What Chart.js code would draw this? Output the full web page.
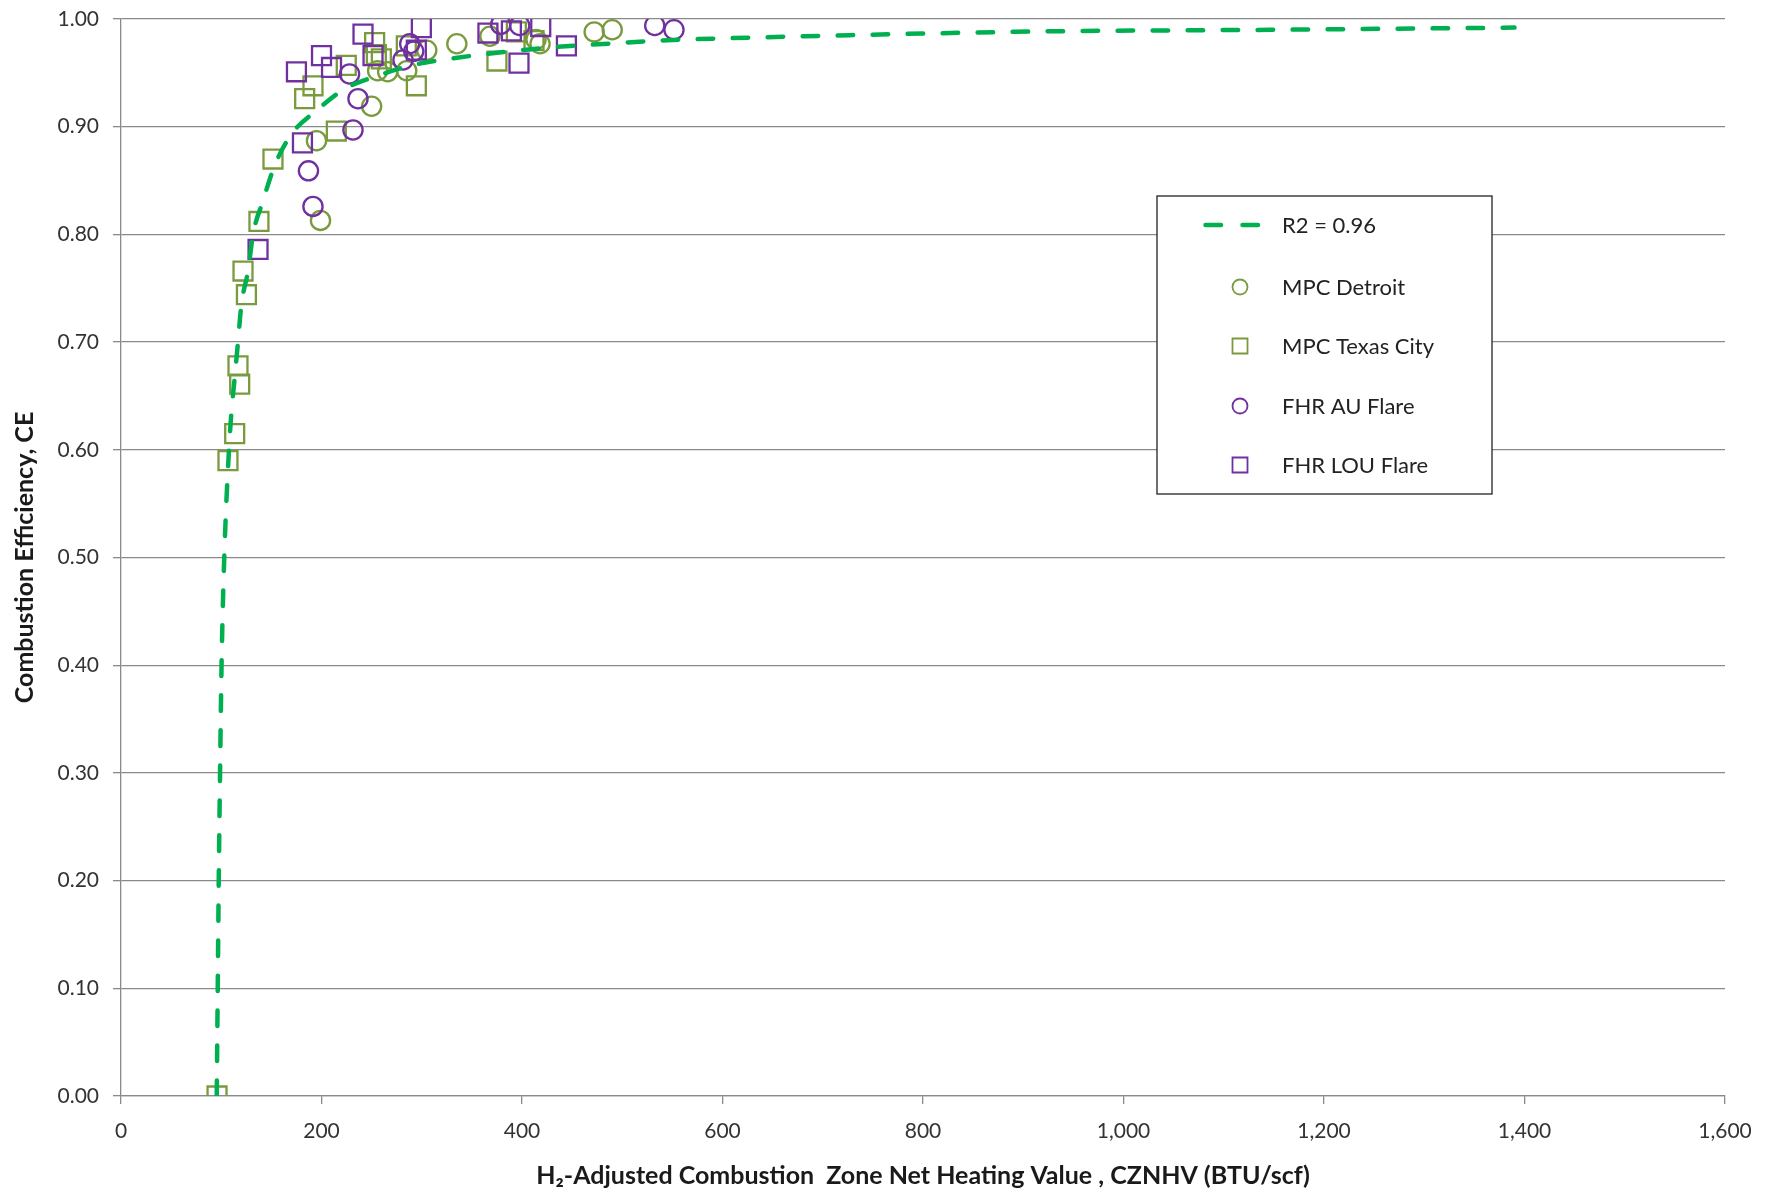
<!DOCTYPE html>
<html lang="en">
<head>
  <meta charset="UTF-8" />
  <title>Combustion Efficiency vs CZNHV</title>
  <script src="https://cdn.jsdelivr.net/npm/chart.js"></script>
  <style>
    html, body { margin:0; padding:0; background:#fff; }
    #wrap { width:1777px; height:1195px; }
  </style>
</head>
<body>
<div id="wrap"><canvas id="ceChart" width="1777" height="1195"></canvas></div>
<script>
  // --- data ---
  const fitX = [95.5, 96.5, 97.5, 98.8, 100.3, 103, 107.7, 110, 113.4, 116.7, 120, 126.7, 131.7, 141.6, 153.3, 170, 195, 223, 255, 290, 320, 360, 434, 502, 537, 600, 727, 921, 1150, 1390];
  const fitY = [0.00, 0.10, 0.20, 0.30, 0.40, 0.50, 0.60, 0.633, 0.667, 0.70, 0.734, 0.766, 0.80, 0.831, 0.864, 0.893, 0.915, 0.935, 0.947, 0.957, 0.962, 0.967, 0.974, 0.978, 0.980, 0.982, 0.985, 0.9885, 0.990, 0.992];

  const detroitX = [195, 199, 250, 256, 266, 285, 305, 335, 368, 414, 418, 472, 490];
  const detroitY = [0.887, 0.813, 0.919, 0.952, 0.951, 0.952, 0.971, 0.977, 0.984, 0.981, 0.977, 0.988, 0.990];

  const texasX = [95.8, 106.7, 113.4, 118.4, 116.7, 125.1, 121.7, 137.6, 151.6, 183.2, 191.5, 214.8, 224.7, 253, 254.7, 259.7, 284.6, 294.6, 375, 394.4, 412];
  const texasY = [0.000, 0.590, 0.615, 0.661, 0.678, 0.744, 0.766, 0.812, 0.870, 0.926, 0.938, 0.896, 0.957, 0.978, 0.967, 0.963, 0.975, 0.938, 0.961, 0.988, 0.980];

  const auX = [187, 191.5, 228, 236.4, 231.4, 281.3, 288, 292, 378.8, 397.7, 532.4, 551.6];
  const auY = [0.859, 0.826, 0.949, 0.926, 0.897, 0.962, 0.977, 0.970, 0.995, 0.994, 0.994, 0.990];

  const louX = [136.7, 175, 181, 200, 210, 241.4, 251.4, 294.6, 299.6, 366, 389.4, 397, 418.7, 444.3];
  const louY = [0.786, 0.951, 0.885, 0.966, 0.955, 0.986, 0.966, 0.971, 0.992, 0.987, 0.989, 0.959, 0.993, 0.975];

  const xTicks = [0, 200, 400, 600, 800, 1000, 1200, 1400, 1600];
  const yTicks = [0, 0.1, 0.2, 0.3, 0.4, 0.5, 0.6, 0.7, 0.8, 0.9, 1.0];

  const legendLabels = ["R2 = 0.96", "MPC Detroit", "MPC Texas City", "FHR AU Flare", "FHR LOU Flare"];

  const GREEN = '#7A9A3E', PURPLE = '#7030A0', FIT = '#00B050', GRID = '#8a8a8a';
  const FONT = 'Lato, "Open Sans", sans-serif';

  const pts = (xs, ys) => xs.map((x, i) => ({ x: x, y: ys[i] }));

  function markerSet(label, xs, ys, color, style, order){
    return {
      label: label, data: pts(xs, ys), order: order, showLine: false,
      pointStyle: style, pointRadius: style === 'rect' ? 13.4 : 9.6,
      pointBorderWidth: 2.3, borderColor: color, pointBorderColor: color,
      backgroundColor: 'rgba(0,0,0,0)', pointBackgroundColor: 'rgba(0,0,0,0)',
      pointHoverRadius: 0
    };
  }

  // legend drawn inside the plot, like the original
  const boxLegend = {
    id: 'boxLegend',
    afterDraw(chart){
      const ctx = chart.ctx;
      const bx = 1157, by = 196, bw = 335, bh = 298;
      ctx.save();
      ctx.fillStyle = '#fff';
      ctx.fillRect(bx, by, bw, bh);
      ctx.strokeStyle = '#222'; ctx.lineWidth = 1.3;
      ctx.strokeRect(bx, by, bw, bh);

      const rows = [225, 287, 346, 406, 465];
      // trend line sample
      ctx.strokeStyle = FIT; ctx.lineWidth = 4.5; ctx.lineCap = 'round';
      ctx.setLineDash([15.5, 21.5]);
      ctx.beginPath(); ctx.moveTo(1205.5, rows[0]); ctx.lineTo(1258, rows[0]); ctx.stroke();
      ctx.setLineDash([]);

      const marks = [[GREEN,'circle'],[GREEN,'rect'],[PURPLE,'circle'],[PURPLE,'rect']];
      ctx.lineWidth = 1.8;
      marks.forEach((m, i) => {
        const y = rows[i+1];
        ctx.strokeStyle = m[0];
        ctx.beginPath();
        if (m[1] === 'circle') ctx.arc(1240, y, 7.5, 0, Math.PI*2);
        else ctx.rect(1232.5, y - 7.5, 15, 15);
        ctx.stroke();
      });

      ctx.fillStyle = '#222';
      ctx.font = '22px ' + FONT;
      ctx.textBaseline = 'middle'; ctx.textAlign = 'left';
      legendLabels.forEach((t, i) => ctx.fillText(t, 1282, rows[i] + 1));
      ctx.restore();
    }
  };

  new Chart(document.getElementById('ceChart'), {
    type: 'scatter',
    data: {
      datasets: [
        {
          label: legendLabels[0], data: pts(fitX, fitY), order: 0, showLine: true,
          borderColor: FIT, borderWidth: 4.5, borderDash: [15.5, 19.5], borderCapStyle: 'round',
          cubicInterpolationMode: 'monotone', pointRadius: 0, pointHoverRadius: 0, fill: false
        },
        markerSet(legendLabels[1], detroitX, detroitY, GREEN, 'circle', 4),
        markerSet(legendLabels[2], texasX, texasY, GREEN, 'rect', 3),
        markerSet(legendLabels[3], auX, auY, PURPLE, 'circle', 2),
        markerSet(legendLabels[4], louX, louY, PURPLE, 'rect', 1)
      ]
    },
    options: {
      responsive: false, animation: false,
      layout: { padding: { top: 19, right: 52, left: 0, bottom: 0 } },
      plugins: { legend: { display: false }, tooltip: { enabled: false } },
      events: [],
      scales: {
        x: {
          type: 'linear', min: 0, max: 1600,
          afterFit: s => { s.height = 99; },
          afterBuildTicks: s => { s.ticks = xTicks.map(v => ({ value: v })); },
          ticks: {
            padding: 15, color: '#333', font: { family: FONT, size: 21 },
            callback: v => v.toLocaleString('en-US')
          },
          grid: { color: 'rgba(0,0,0,0)', tickColor: GRID, tickLength: 8, lineWidth: 1.3 },
          border: { color: GRID, width: 1.3 },
          title: {
            display: true, color: '#1a1a1a', padding: { top: 0, bottom: 4 },
            text: 'H\u2082-Adjusted Combustion  Zone Net Heating Value , CZNHV (BTU/scf)',
            font: { family: FONT, size: 25, weight: 'bold' }
          }
        },
        y: {
          min: 0, max: 1,
          afterFit: s => { s.width = 121; s.paddingTop = 0; s.paddingBottom = 0; },
          afterBuildTicks: s => { s.ticks = yTicks.map(v => ({ value: v })); },
          ticks: {
            padding: 14, color: '#333', font: { family: FONT, size: 21 },
            callback: v => v.toFixed(2)
          },
          grid: { color: GRID, tickColor: GRID, tickLength: 8, lineWidth: 1.3 },
          border: { color: GRID, width: 1.3 },
          title: {
            display: true, color: '#1a1a1a', padding: { top: 10, bottom: 0 },
            text: 'Combustion Efficiency, CE',
            font: { family: FONT, size: 25, weight: 'bold' }
          }
        }
      }
    },
    plugins: [boxLegend]
  });
</script>
</body>
</html>
